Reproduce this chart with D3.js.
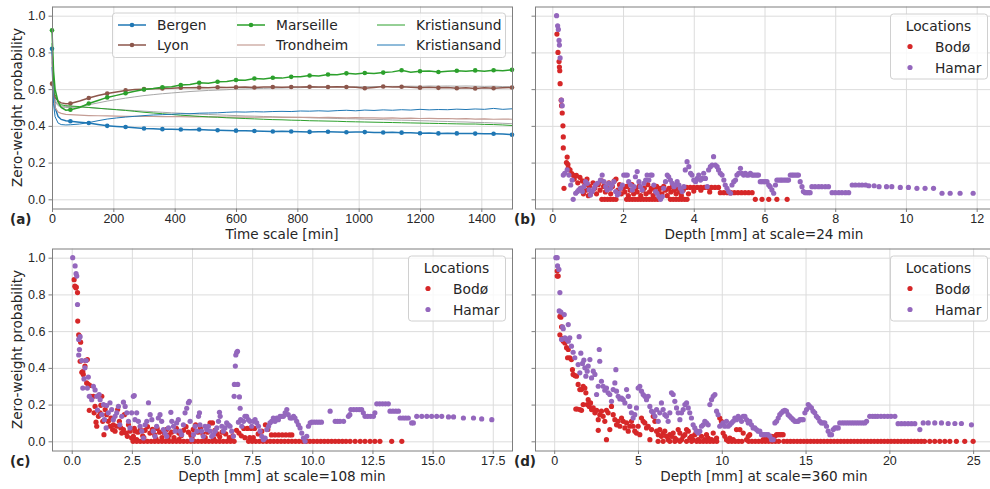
<!DOCTYPE html>
<html lang="en">
<head>
<meta charset="UTF-8">
<title>Zero-weight probability</title>
<script src="https://d3js.org/d3.v7.min.js"></script>
<style>
  body { margin: 0; background: #fff; overflow: hidden; }
  svg { font-family: "DejaVu Sans", sans-serif; display: block; }
  .grid line { stroke: #dcdcdc; }
  .grid path, .axis path { display: none; }
  .axis line { stroke: #808080; }
  .axis text { fill: #262626; font-size: 12.5px; }
  .lbl { fill: #262626; font-size: 13.6px; }
  .tag { fill: #262626; font-size: 13.5px; font-weight: bold; }
  .leg { fill: #262626; font-size: 13.8px; }
</style>
</head>
<body>
<script>
// ---- panel (a): zero-weight probability vs time scale ----
const times = [0, 5, 10, 20, 30, 45, 60, 90, 120, 150, 180, 210, 240, 270, 300, 330, 360, 390, 420, 450,
  480, 510, 540, 570, 600, 630, 660, 690, 720, 750, 780, 810, 840, 870, 900, 930, 960, 990, 1020, 1050,
  1080, 1110, 1140, 1170, 1200, 1230, 1260, 1290, 1320, 1350, 1380, 1410, 1440, 1470, 1500];

const bergen = [0.82, 0.6, 0.5, 0.45, 0.435, 0.428, 0.425, 0.42, 0.416, 0.408, 0.40, 0.397, 0.394, 0.39, 0.386, 0.384, 0.382, 0.381, 0.38, 0.379,
  0.38, 0.378, 0.376, 0.375, 0.374, 0.373, 0.372, 0.371, 0.369, 0.37, 0.369, 0.368, 0.367, 0.368, 0.368, 0.366, 0.365, 0.366, 0.366, 0.364,
  0.364, 0.365, 0.363, 0.362, 0.36, 0.361, 0.359, 0.36, 0.359, 0.358, 0.358, 0.357, 0.357, 0.356, 0.352];
const lyon = [0.63, 0.58, 0.555, 0.535, 0.525, 0.52, 0.522, 0.535, 0.552, 0.565, 0.576, 0.585, 0.593, 0.598, 0.6, 0.602, 0.604, 0.605, 0.608, 0.607,
  0.609, 0.608, 0.61, 0.609, 0.61, 0.611, 0.609, 0.611, 0.612, 0.61, 0.612, 0.611, 0.613, 0.611, 0.612, 0.613, 0.612, 0.61, 0.605, 0.609,
  0.614, 0.612, 0.613, 0.61, 0.608, 0.61, 0.607, 0.609, 0.605, 0.608, 0.604, 0.607, 0.605, 0.607, 0.609];
const marseille = [0.92, 0.7, 0.6, 0.53, 0.5, 0.485, 0.488, 0.5, 0.522, 0.538, 0.555, 0.566, 0.578, 0.588, 0.598, 0.603, 0.61, 0.613, 0.622, 0.625,
  0.635, 0.632, 0.64, 0.641, 0.65, 0.648, 0.658, 0.655, 0.662, 0.66, 0.667, 0.668, 0.674, 0.672, 0.68, 0.678, 0.686, 0.682, 0.688, 0.685,
  0.69, 0.694, 0.703, 0.692, 0.697, 0.699, 0.693, 0.698, 0.7, 0.697, 0.702, 0.698, 0.703, 0.7, 0.705];
const trondheim = [0.78, 0.56, 0.5, 0.475, 0.468, 0.463, 0.461, 0.458, 0.456, 0.455, 0.454, 0.453, 0.452, 0.452, 0.451, 0.451, 0.45, 0.45, 0.45, 0.449,
  0.45, 0.449, 0.449, 0.448, 0.448, 0.448, 0.447, 0.448, 0.447, 0.446, 0.447, 0.446, 0.446, 0.445, 0.446, 0.445, 0.444, 0.445, 0.443, 0.444,
  0.442, 0.443, 0.441, 0.442, 0.44, 0.441, 0.439, 0.44, 0.438, 0.439, 0.437, 0.438, 0.436, 0.437, 0.436];
const kristiansund = [0.85, 0.65, 0.57, 0.53, 0.515, 0.51, 0.508, 0.505, 0.5, 0.496, 0.492, 0.488, 0.484, 0.479, 0.474, 0.47, 0.466, 0.462, 0.458, 0.455,
  0.452, 0.449, 0.447, 0.444, 0.442, 0.44, 0.438, 0.436, 0.434, 0.433, 0.431, 0.43, 0.428, 0.427, 0.426, 0.425, 0.423, 0.422, 0.421, 0.42,
  0.419, 0.418, 0.417, 0.416, 0.415, 0.414, 0.413, 0.412, 0.411, 0.41, 0.41, 0.408, 0.407, 0.405, 0.402];
const kristiansand = [0.72, 0.52, 0.45, 0.415, 0.407, 0.405, 0.406, 0.41, 0.418, 0.428, 0.437, 0.443, 0.448, 0.452, 0.456, 0.459, 0.461, 0.463, 0.466, 0.466,
  0.469, 0.47, 0.471, 0.474, 0.476, 0.475, 0.477, 0.476, 0.478, 0.479, 0.478, 0.481, 0.48, 0.482, 0.48, 0.483, 0.485, 0.482, 0.486, 0.484,
  0.487, 0.485, 0.488, 0.486, 0.49, 0.487, 0.489, 0.488, 0.491, 0.489, 0.492, 0.49, 0.495, 0.49, 0.493];
// two faint unlabeled reference curves
const greyUp = [0.75, 0.57, 0.53, 0.51, 0.503, 0.5, 0.5, 0.505, 0.515, 0.525, 0.535, 0.543, 0.551, 0.558, 0.565, 0.57, 0.575, 0.579, 0.583, 0.587,
  0.59, 0.593, 0.595, 0.597, 0.6, 0.601, 0.603, 0.604, 0.606, 0.606, 0.608, 0.608, 0.61, 0.61, 0.611, 0.612, 0.612, 0.613, 0.613, 0.614,
  0.614, 0.615, 0.615, 0.616, 0.615, 0.617, 0.616, 0.617, 0.616, 0.617, 0.616, 0.615, 0.616, 0.614, 0.613];
const greyDown = [0.8, 0.6, 0.54, 0.515, 0.508, 0.505, 0.504, 0.502, 0.5, 0.496, 0.492, 0.489, 0.486, 0.483, 0.48, 0.477, 0.474, 0.471, 0.469, 0.466,
  0.464, 0.462, 0.46, 0.458, 0.456, 0.454, 0.453, 0.451, 0.45, 0.448, 0.447, 0.446, 0.444, 0.443, 0.442, 0.44, 0.439, 0.438, 0.436, 0.435,
  0.434, 0.432, 0.431, 0.43, 0.428, 0.427, 0.425, 0.424, 0.422, 0.421, 0.419, 0.418, 0.416, 0.414, 0.412];

// ---- panels (b)-(d): depth vs zero-weight probability ----
const bodo24 = [[0.13,0.9],[0.16,0.8],[0.19,0.75],[0.2,0.72],[0.21,0.7],[0.22,0.63],[0.25,0.54],[0.26,0.51],[0.28,0.47],[0.3,0.4],
  [0.31,0.34],[0.31,0.28],[0.42,0.23],[0.4,0.2],[0.44,0.19],[0.45,0.17],[0.5,0.16],[0.33,0.06],[0.55,0.14],[0.6,0.13],[0.62,0.11],
  [0.68,0.13],[0.72,0.09],[0.78,0.12],[0.8,0.06],[0.85,0.1],[0.88,0.03],[0.92,0.08],[0.95,0.05],[0.98,0.11],[1.02,0.02],[1.05,0.07],
  [1.1,0.04],[1.15,0.09],[1.2,0.06],[1.25,0.03],[1.3,0.08],[1.35,0.05],[1.4,0.1],[1.45,0.07],[1.5,0.04],[1.55,0.06],[1.6,0.09],
  [1.65,0.03],[1.7,0.07],[1.75,0.1],[1.8,0.11],[1.85,0.05],[1.9,0.08],[1.95,0.03],[2.0,0.06],[2.05,0.04],[2.1,0.07],[2.15,0.02],
  [2.2,0.05],[2.25,0.08],[2.3,0.03],[2.35,0.06],[2.4,0.04],[2.45,0.07],[2.5,0.02],[2.55,0.05],[2.6,0.06],[2.65,0.03],[2.7,0.08],
  [2.75,0.04],[2.8,0.06],[2.85,0.02],[2.9,0.05],[2.95,0.07],[3.0,0.04],[3.05,0.06],[3.1,0.03],[3.15,0.07],[3.2,0.05],[3.25,0.02],
  [3.3,0.06],[3.35,0.04],[3.4,0.07],[3.45,0.05],[3.5,0.03],[3.55,0.06],[3.6,0.04],[3.65,0.02],[3.7,0.05],[3.85,0.03],[4.0,0.045],
  [4.2,0.05],[4.45,0.04],[3.8,0.065],[3.9,0.065],[4.0,0.065],[4.1,0.065],[4.2,0.065],[4.3,0.065],[4.4,0.065],[4.5,0.065],[4.6,0.065],
  [4.7,0.065],[4.75,0.036],[4.85,0.036],[4.95,0.036],[5.05,0.036],[5.15,0.036],[5.25,0.036],[5.35,0.036],[5.45,0.036],[5.55,0.036],
  [5.65,0.036],[1.4,0],[1.48,0],[1.56,0],[1.64,0],[1.72,0],[1.8,0],[2.1,0],[2.18,0],[2.26,0],[2.34,0],[2.42,0],[2.5,0],[2.58,0],
  [2.66,0],[2.74,0],[2.82,0],[2.9,0],[2.98,0],[3.34,0],[3.42,0],[3.5,0],[3.58,0],[3.66,0],[3.74,0],[3.81,0],[5.74,0],[5.93,0],
  [6.12,0],[6.35,0],[6.64,0]];
const hamar24 = [[0.12,1.0],[0.15,0.945],[0.17,0.925],[0.19,0.865],[0.2,0.84],[0.22,0.77],[0.26,0.54],[0.28,0.51],[0.31,0.132],
  [0.35,0.142],[0.42,0.16],[0.47,0.132],[0.52,0.078],[0.56,0.105],[0.59,0],[0.66,0.033],[0.71,0.042],[0.75,0.051],[0.8,0.06],
  [0.85,0.042],[0.89,0.069],[0.94,0.096],[0.99,0.087],[1.04,0.051],[1.08,0.024],[1.13,0.042],[1.18,0.06],[1.22,0.078],[1.27,0.087],
  [1.36,0.105],[1.41,0.132],[1.46,0.096],[1.51,0.069],[1.55,0.051],[1.6,0.087],[1.65,0.06],[1.69,0.078],[1.74,0.096],[1.79,0.042],
  [1.84,0.024],[1.88,0.033],[1.93,0.06],[1.98,0.078],[2.02,0.132],[2.07,0.132],[2.12,0.132],[2.16,0.096],[2.21,0.078],[2.26,0.051],
  [2.31,0.069],[2.35,0.123],[2.4,0.151],[2.45,0.096],[2.49,0.069],[2.54,0.051],[2.59,0.087],[2.64,0.105],[2.68,0.132],[2.73,0.105],
  [2.78,0.132],[2.82,0.132],[2.87,0.078],[2.92,0.042],[2.96,0.033],[3.01,0.015],[3.06,0],[3.11,0.015],[3.15,0.06],[3.2,0.096],
  [3.25,0.132],[3.29,0.123],[3.34,0.105],[3.39,0.087],[3.44,0.069],[3.48,0.078],[3.53,0.096],[3.58,0.078],[3.62,0.06],[3.67,0.042],
  [3.72,0.069],[3.76,0.16],[3.81,0.205],[3.86,0.178],[3.91,0.142],[3.95,0.132],[4.0,0.105],[4.05,0.096],[4.1,0.114],[4.14,0.132],
  [4.19,0.105],[4.24,0.114],[4.28,0.142],[4.33,0.114],[4.38,0.069],[4.42,0.16],[4.47,0.178],[4.52,0.187],[4.56,0.232],[4.61,0.187],
  [4.66,0.178],[4.7,0.16],[4.75,0.142],[4.8,0.132],[4.85,0.105],[4.89,0.078],[4.94,0.06],[4.99,0.042],[5.04,0.033],[5.08,0.078],
  [5.13,0.096],[5.18,0.105],[5.22,0.132],[5.27,0.142],[5.32,0.169],[5.36,0.142],[5.41,0.132],[5.46,0.142],[5.5,0.132],[5.55,0.132],
  [5.6,0.142],[5.65,0.132],[5.69,0.132],[5.74,0.132],[5.79,0.132],[5.83,0.132],[5.88,0.096],[5.93,0.096],[5.98,0.096],[6.02,0.096],
  [6.07,0.096],[6.12,0.078],[6.16,0.069],[6.21,0.051],[6.26,0.033],[6.31,0.078],[6.35,0.105],[6.4,0.105],[6.45,0.105],[6.49,0.105],
  [6.54,0.105],[6.59,0.105],[6.64,0.105],[6.68,0.105],[6.73,0.132],[6.78,0.132],[6.82,0.132],[6.87,0.132],[6.92,0.132],[6.96,0.132],
  [7.01,0.096],[7.06,0.069],[7.1,0.042],[7.15,0.036],[7.2,0.036],[7.25,0.036],[7.29,0.036],[7.34,0.069],[7.43,0.069],[7.53,0.069],
  [7.62,0.069],[7.72,0.069],[7.81,0.069],[7.91,0.036],[8.0,0.036],[8.1,0.036],[8.19,0.036],[8.29,0.036],[8.38,0.036],[8.48,0.078],
  [8.57,0.078],[8.67,0.078],[8.76,0.078],[8.86,0.078],[8.95,0.074],[9.1,0.074],[9.24,0.069],[9.45,0.069],[9.6,0.069],[9.84,0.065],
  [10.07,0.065],[10.31,0.06],[10.54,0.06],[10.78,0.06],[11.02,0.033],[11.25,0.033],[11.53,0.033],[11.9,0.033]];

const bodo108 = [[0.1,0.88],[0.13,0.845],[0.17,0.836],[0.19,0.84],[0.24,0.81],[0.25,0.655],[0.29,0.58],[0.32,0.573],[0.37,0.54],
  [0.35,0.436],[0.42,0.376],[0.46,0.38],[0.48,0.364],[0.55,0.41],[0.58,0.44],[0.65,0.445],[0.62,0.318],[0.69,0.31],[0.76,0.304],
  [0.79,0.245],[0.73,0.169],[0.9,0.245],[0.93,0.155],[0.97,0.19],[1.01,0.104],[1.04,0.082],[1.11,0.136],[1.18,0.155],[1.21,0.196],
  [1.25,0.245],[1.29,0.109],[1.34,0.036],[1.39,0.173],[1.45,0.145],[1.52,0.109],[1.59,0.082],[1.63,0.127],[1.7,0.064],[1.73,0.09],
  [1.8,0.055],[1.87,0.082],[1.91,0.173],[1.98,0.109],[2.04,0.073],[2.08,0.045],[2.15,0.064],[2.19,0.145],[2.26,0.045],[2.31,0.027],
  [2.36,0.09],[2.42,0.055],[2.49,0.018],[2.56,0.027],[2.63,0.055],[2.7,0.009],[2.6,0.07],[2.75,0.05],[2.85,0.065],[2.95,0.03],
  [3.05,0.06],[3.15,0.08],[3.25,0.045],[3.35,0.065],[3.45,0.035],[3.55,0.07],[3.65,0.05],[3.75,0.02],[3.85,0.045],[3.95,0.065],
  [4.05,0.035],[4.15,0.05],[4.25,0.02],[4.35,0.07],[4.45,0.045],[4.55,0.03],[4.65,0.06],[4.75,0.08],[4.85,0.05],[4.95,0.035],
  [5.05,0.065],[5.15,0.09],[5.25,0.05],[5.35,0.07],[5.45,0.04],[5.55,0.02],[5.65,0.05],[5.75,0.1],[5.85,0.1],[5.95,0.06],[6.05,0.04],
  [6.15,0.025],[6.25,0.05],[6.4,0.04],[6.55,0.02],[6.7,0.03],[6.85,0.06],[6.95,0.045],[7.05,0.03],[7.15,0.07],[7.3,0.07],[7.45,0.07],
  [7.6,0.07],[7.75,0.04],[7.9,0.055],[8.05,0.09],[8.15,0.065],[8.3,0.035],[8.45,0.035],[8.6,0.035],[8.75,0.035],[8.9,0.035],
  [9.05,0.035],[9.15,0.035],[2.55,0.02],[3.0,0.02],[3.5,0.015],[4.0,0.015],[4.45,0.01],[5.0,0.02],[5.9,0.015],[6.6,0.015],[7.2,0.02],
  [7.4,0.02],[7.55,0.02]];
const bodo108Zero = [2.55, 2.7, 2.85, 3.0, 3.15, 3.3, 3.45, 3.6, 3.75, 3.9, 4.05, 4.2, 4.35, 4.5, 4.65, 4.8, 4.95, 5.1, 5.25, 5.4,
  5.55, 5.7, 5.85, 6.0, 6.15, 6.3, 6.45, 6.6, 6.75, 7.35, 7.5, 7.65, 7.8, 7.95, 8.1, 8.25, 8.4, 8.55, 8.7, 8.85, 9.0, 9.15, 9.3,
  9.45, 9.6, 9.75, 9.9, 10.05, 10.2, 10.35, 10.5, 10.65, 10.8, 10.95, 11.1, 11.25, 11.4, 11.57, 11.78, 11.99, 12.19, 12.4, 12.6,
  12.81, 13.3, 13.72];
const hamar108 = [[0.04,1.0],[0.14,0.955],[0.18,0.913],[0.21,0.9],[0.24,0.745],[0.29,0.555],[0.35,0.57],[0.32,0.5],[0.29,0.47],
  [0.42,0.44],[0.46,0.29],[0.51,0.34],[0.55,0.4],[0.6,0.44],[0.65,0.29],[0.69,0.35],[0.73,0.245],[0.83,0.227],[0.9,0.3],[0.97,0.28],
  [1.04,0.245],[1.07,0.17],[1.14,0.255],[1.18,0.227],[1.25,0.145],[1.32,0.2],[1.36,0.118],[1.43,0.073],[1.45,0.195],[1.52,0.155],
  [1.59,0.21],[1.66,0.173],[1.73,0.118],[1.8,0.136],[1.87,0.155],[1.94,0.19],[2.0,0.09],[2.08,0.136],[2.15,0.213],[2.22,0.19],
  [2.29,0.155],[2.36,0.109],[2.42,0.073],[2.49,0.155],[2.56,0.245],[2.6,0.249],[2.63,0.118],[2.7,0.155],[2.77,0.109],[2.84,0.082],
  [2.91,0.055],[2.98,0.018],[3.05,0.09],[3.12,0.109],[3.19,0.21],[3.26,0.145],[3.33,0.118],[3.39,0.055],[3.46,0.027],[3.53,0.082],
  [3.6,0.127],[3.67,0.145],[3.74,0.109],[3.81,0.064],[3.88,0.045],[3.95,0.027],[4.02,0.073],[4.12,0.158],[4.16,0.109],[4.23,0.082],
  [4.3,0.055],[4.36,0.1],[4.43,0.118],[4.5,0.055],[4.57,0.036],[4.64,0.09],[4.71,0.155],[4.78,0.18],[4.85,0.21],[4.89,0.218],
  [4.92,0.109],[4.99,0.009],[5.06,0.036],[5.13,0.082],[5.2,0.055],[5.27,0.136],[5.31,0.155],[5.33,0.09],[5.4,0.055],[5.47,0.027],
  [5.54,0.082],[5.61,0.064],[5.68,0.082],[5.75,0.055],[5.82,0.027],[5.89,0.036],[5.96,0.055],[6.03,0.073],[6.1,0.109],[6.14,0.158],
  [6.17,0.136],[6.24,0.082],[6.3,0.055],[6.37,0.073],[6.44,0.1],[6.51,0.09],[6.58,0.082],[6.65,0.055],[6.72,0.027],[6.75,0.245],
  [6.76,0.31],[6.8,0.41],[6.82,0.47],[6.86,0.485],[6.89,0.49],[6.9,0.31],[6.97,0.242],[7.0,0.18],[6.93,0.104],[7.02,0.118],[7.07,0.082],
  [7.14,0.109],[7.2,0.136],[7.27,0.136],[7.34,0.118],[7.41,0.109],[7.48,0.082],[7.55,0.109],[7.62,0.118],[7.69,0.1],[7.76,0.082],
  [7.83,0.055],[7.9,0.027],[7.97,0.009],[8.04,0.018],[8.11,0.064],[8.18,0.082],[8.24,0.1],[8.31,0.109],[8.38,0.127],[8.45,0.109],
  [8.52,0.127],[8.59,0.118],[8.66,0.136],[8.73,0.136],[8.8,0.136],[8.87,0.155],[8.94,0.173],[9.0,0.145],[9.08,0.127],[9.15,0.127],
  [9.22,0.136],[9.28,0.127],[9.35,0.109],[9.42,0.09],[9.49,0.073],[9.56,0.045],[9.63,0.018],[9.7,0],[9.77,0.027],[9.84,0.082],
  [9.91,0.1],[9.98,0.104],[10.08,0.104],[10.18,0.104],[10.28,0.104],[10.38,0.104],[10.74,0.164],[10.95,0.109],[11.05,0.109],
  [11.15,0.109],[11.3,0.109],[11.5,0.136],[11.56,0.145],[11.6,0.173],[11.72,0.173],[11.84,0.173],[11.95,0.173],[12.05,0.173],
  [12.12,0.155],[12.19,0.136],[12.3,0.136],[12.42,0.136],[12.54,0.136],[12.6,0.155],[12.68,0.204],[12.8,0.204],[12.92,0.204],
  [13.04,0.204],[13.16,0.204],[13.23,0.164],[13.35,0.164],[13.47,0.164],[13.58,0.164],[13.65,0.127],[13.77,0.127],[13.88,0.127],
  [13.99,0.127],[14.13,0.1],[14.2,0.1],[14.34,0.136],[14.55,0.136],[14.76,0.136],[14.96,0.136],[15.17,0.136],[15.38,0.136],
  [15.66,0.133],[15.87,0.133],[16.28,0.127],[16.7,0.127],[17.04,0.122],[17.46,0.118]];

const bodo360 = [[0.18,0.927],[0.24,0.9],[0.18,0.9],[0.34,0.68],[0.4,0.676],[0.44,0.624],[0.34,0.58],[0.5,0.56],[0.54,0.545],
  [0.64,0.536],[0.74,0.51],[0.84,0.5],[0.8,0.455],[0.93,0.455],[1.03,0.445],[1.09,0.39],[1.13,0.364],[1.23,0.358],[1.33,0.355],
  [1.43,0.31],[1.29,0.176],[1.37,0.176],[1.53,0.173],[1.63,0.169],[1.53,0.282],[1.63,0.282],[1.73,0.3],[1.83,0.29],[1.89,0.264],
  [1.73,0.2],[1.97,0.2],[2.03,0.227],[2.09,0.19],[2.17,0.209],[2.23,0.173],[2.33,0.182],[2.43,0.155],[2.53,0.169],[2.63,0.118],
  [2.63,0.06],[2.72,0.145],[2.82,0.164],[2.92,0.136],[3.02,0.109],[3.12,0.009],[3.12,0.169],[3.22,0.155],[3.32,0.064],[3.42,0.19],
  [3.52,0.145],[3.62,0.118],[3.72,0.09],[3.82,0.109],[3.92,0.082],[4.02,0.127],[4.12,0.109],[4.22,0.073],[4.32,0.1],[4.42,0.055],
  [4.51,0.082],[4.61,0.109],[4.71,0.082],[4.81,0.055],[4.91,0.045],[5.01,0.082],[5.11,0.036],[5.21,0.127],[5.31,0.109],[5.41,0.1],
  [5.51,0.073],[5.61,0.082],[5.71,0.009],[5.81,0.064],[5.91,0.136],[6.01,0.109],[6.11,0.055],[6.21,0.036],[6.3,0.064],[6.4,0.027],
  [6.5,0.045],[6.6,0.055],[6.7,0.027],[6.8,0.009],[6.9,0.036],[7.0,0.027],[7.1,0.045],[7.2,0.018],[7.3,0.009],[7.4,0.064],[7.5,0.045],
  [7.6,0.009],[7.7,0.027],[7.8,0.036],[7.9,0.064],[8.0,0.055],[8.09,0.018],[8.19,0.027],[8.29,0.009],[8.39,0.036],[8.49,0.055],
  [8.59,0.009],[8.79,0.027],[8.99,0.009],[9.09,0.036],[9.19,0.018],[9.39,0.009],[9.49,0.045],[9.69,0.018],[9.88,0.127],[9.98,0.109],
  [10.08,0.045],[10.18,0.027],[10.28,0.009],[10.48,0.018],[10.68,0.009],[10.88,0.064],[11.08,0.064],[11.28,0.045],[11.48,0.009],
  [11.58,0.027],[11.67,0.036],[12.47,0.009],[12.67,0.018],[12.77,0.027],[12.97,0.027],[13.17,0.027],[13.27,0.036],[13.37,0.036],
  [13.46,0.036],[13.56,0.036],[13.66,0.036]];
const bodo360Zero = [6.2, 6.5, 6.9, 7.2, 7.5, 7.9, 8.2, 8.5, 8.7, 8.9, 9.1, 9.3, 9.5, 9.7, 10.4, 10.6, 10.8, 11.0, 11.2, 11.6,
  11.8, 12.0, 12.2, 12.4, 12.6, 12.8, 13.0, 13.2, 13.4, 13.7, 13.9, 14.1, 14.3, 14.5, 14.7, 14.9, 15.1, 15.3, 15.5, 15.7, 15.9,
  16.1, 16.3, 16.5, 16.7, 16.9, 17.1, 17.3, 17.5, 17.7, 17.9, 18.1, 18.3, 18.5, 18.7, 18.9, 19.1, 19.3, 19.5, 19.7, 19.9, 20.1,
  20.3, 20.5, 20.7, 20.9, 21.1, 21.3, 21.5, 21.7, 21.9, 22.1, 22.41, 22.71, 23.01, 23.31, 23.61, 24.0, 24.5, 25.0];
const hamar360 = [[0.1,1.0],[0.18,1.0],[0.2,0.955],[0.28,0.936],[0.34,0.81],[0.3,0.71],[0.4,0.704],[0.5,0.624],[0.54,0.613],
  [0.6,0.69],[0.44,0.555],[0.64,0.564],[0.74,0.555],[0.84,0.636],[0.84,0.545],[0.93,0.564],[1.03,0.518],[1.13,0.485],[1.23,0.455],
  [1.43,0.418],[1.49,0.57],[1.53,0.373],[1.59,0.48],[1.69,0.424],[1.77,0.442],[1.83,0.4],[1.89,0.355],[1.97,0.382],[2.03,0.41],
  [2.13,0.445],[2.23,0.345],[2.33,0.382],[2.43,0.364],[2.53,0.255],[2.63,0.3],[2.69,0.5],[2.72,0.436],[2.82,0.327],[2.92,0.3],
  [3.02,0.278],[3.12,0.29],[3.22,0.264],[3.32,0.255],[3.42,0.218],[3.52,0.282],[3.62,0.318],[3.68,0.39],[3.72,0.273],[3.82,0.245],
  [3.92,0.231],[4.02,0.236],[4.12,0.227],[4.22,0.209],[4.32,0.282],[4.42,0.245],[4.51,0.19],[4.61,0.155],[4.71,0.127],[4.81,0.145],
  [4.91,0.182],[5.01,0.29],[5.11,0.3],[5.21,0.273],[5.31,0.255],[5.41,0.245],[5.51,0.227],[5.61,0.245],[5.71,0.19],[5.81,0.164],
  [5.91,0.155],[6.01,0.136],[6.11,0.173],[6.21,0.109],[6.3,0.155],[6.4,0.209],[6.5,0.173],[6.6,0.145],[6.7,0.136],[6.8,0.109],
  [6.9,0.155],[7.0,0.264],[7.1,0.255],[7.2,0.218],[7.3,0.182],[7.4,0.155],[7.5,0.118],[7.6,0.155],[7.7,0.173],[7.8,0.2],[7.9,0.209],
  [8.0,0.182],[8.09,0.155],[8.19,0.127],[8.29,0.09],[8.39,0.073],[8.49,0.055],[8.59,0.045],[8.69,0.055],[8.79,0.082],[8.89,0.09],
  [8.99,0.109],[9.09,0.1],[9.19,0.09],[9.29,0.2],[9.39,0.227],[9.49,0.245],[9.59,0.255],[9.69,0.164],[9.78,0.145],[9.88,0.082],
  [9.98,0.09],[10.08,0.1],[10.18,0.082],[10.28,0.109],[10.38,0.082],[10.48,0.09],[10.58,0.1],[10.68,0.109],[10.78,0.127],[10.88,0.118],
  [10.98,0.136],[11.08,0.127],[11.18,0.109],[11.28,0.136],[11.38,0.136],[11.48,0.118],[11.58,0.1],[11.67,0.109],[11.77,0.09],
  [11.87,0.073],[11.97,0.073],[12.07,0.064],[12.17,0.055],[12.27,0.055],[12.37,0.036],[12.47,0.036],[12.57,0.036],[12.67,0.036],
  [12.77,0.036],[12.87,0.027],[12.97,0.009],[13.07,0.009],[13.17,0.1],[13.27,0.109],[13.37,0.127],[13.46,0.145],[13.56,0.155],
  [13.66,0.164],[13.76,0.169],[13.86,0.164],[13.96,0.145],[14.06,0.136],[14.16,0.127],[14.26,0.118],[14.36,0.109],[14.46,0.109],
  [14.56,0.109],[14.66,0.118],[14.76,0.118],[14.86,0.118],[14.96,0.155],[15.06,0.173],[15.16,0.2],[15.25,0.19],[15.35,0.182],
  [15.45,0.164],[15.55,0.155],[15.65,0.136],[15.75,0.127],[15.85,0.109],[15.95,0.1],[16.05,0.1],[16.15,0.1],[16.25,0.082],
  [16.35,0.055],[16.45,0.036],[16.55,0.036],[16.65,0.064],[16.75,0.073],[16.85,0.073],[16.95,0.073],[17.04,0.1],[17.2,0.1],
  [17.35,0.1],[17.5,0.1],[17.65,0.1],[17.8,0.1],[17.95,0.1],[18.1,0.1],[18.25,0.1],[18.4,0.1],[18.54,0.1],[18.64,0.109],[18.83,0.136],
  [19.0,0.136],[19.15,0.136],[19.3,0.136],[19.5,0.136],[19.7,0.136],[19.9,0.136],[20.1,0.136],[20.33,0.136],[20.52,0.096],
  [20.72,0.096],[20.92,0.096],[21.12,0.096],[21.32,0.096],[21.52,0.096],[21.82,0.064],[22.02,0.1],[22.32,0.1],[22.71,0.1],
  [23.11,0.1],[23.51,0.097],[23.91,0.097],[24.3,0.097],[24.9,0.09]];

const yTicks = [0, 0.2, 0.4, 0.6, 0.8, 1.0];
const timeTicks = [0, 200, 400, 600, 800, 1000, 1200, 1400];
const depthTicks24 = [0, 2, 4, 6, 8, 10, 12];
const depthTicks108 = [0, 2.5, 5, 7.5, 10, 12.5, 15, 17.5];
const depthTicks360 = [0, 5, 10, 15, 20, 25];

const C = { blue: "#1f77b4", brown: "#8c564b", green: "#2ca02c", rose: "#c49c94", grey: "#a8a8a8",
  red: "#d62728", purple: "#9467bd" };

const svg = d3.select("body").append("svg").attr("width", 990).attr("height", 489);

function panel(p) {
  const g = svg.append("g");
  const x = d3.scaleLinear().domain(p.xDomain).range([p.left, p.right]);
  const y = d3.scaleLinear().domain([-0.05, 1.05]).range([p.bottom, p.top]);
  const w = p.right - p.left, h = p.bottom - p.top;

  g.append("g").attr("class", "grid").attr("transform", `translate(0,${p.bottom})`)
    .call(d3.axisBottom(x).tickValues(p.xTicks).tickSize(-h).tickFormat(""));
  g.append("g").attr("class", "grid").attr("transform", `translate(${p.left},0)`)
    .call(d3.axisLeft(y).tickValues(yTicks).tickSize(-w).tickFormat(""));

  g.append("g").attr("class", "axis").attr("transform", `translate(0,${p.bottom})`)
    .call(d3.axisBottom(x).tickValues(p.xTicks).tickSize(3.5).tickPadding(2).tickFormat(p.fmt));
  g.append("g").attr("class", "axis").attr("transform", `translate(${p.left},0)`)
    .call(d3.axisLeft(y).tickValues(yTicks).tickSize(3.5).tickPadding(3)
      .tickFormat(p.yLabels ? d3.format(".1f") : ""));

  g.append("text").attr("class", "lbl").attr("text-anchor", "middle")
    .attr("x", p.labelX || (p.left + p.right) / 2).attr("y", p.bottom + 30).text(p.xLabel);
  if (p.yLabels) {
    g.append("text").attr("class", "lbl").attr("text-anchor", "middle")
      .attr("transform", `translate(22,${(p.top + p.bottom) / 2}) rotate(-90)`)
      .text("Zero-weight probability");
  }
  g.append("text").attr("class", "tag").attr("x", p.tagX).attr("y", p.bottom + 15).text(p.tag);

  const plot = g.append("g");
  g.append("rect").attr("x", p.left + 0.5).attr("y", p.top + 0.5)
    .attr("width", w).attr("height", h).attr("fill", "none").attr("stroke", "#7f7f7f");
  return { g, plot, x, y, p };
}

// (a)
const A = panel({ left: 52, right: 512, top: 6.5, bottom: 208.5, xDomain: [0, 1500], xTicks: timeTicks,
  fmt: d3.format("d"), xLabel: "Time scale [min]", tag: "(a)", tagX: 10, yLabels: true });
const series = [
  { name: null, vals: greyUp, color: C.grey, width: 1, marks: false },
  { name: null, vals: greyDown, color: C.grey, width: 1, marks: false },
  { name: "Bergen", vals: bergen, color: C.blue, width: 1.5, marks: true },
  { name: "Lyon", vals: lyon, color: C.brown, width: 1.5, marks: true },
  { name: "Marseille", vals: marseille, color: C.green, width: 1.5, marks: true },
  { name: "Trondheim", vals: trondheim, color: C.rose, width: 1.2, marks: false },
  { name: "Kristiansund", vals: kristiansund, color: C.green, width: 1, marks: false },
  { name: "Kristiansand", vals: kristiansand, color: C.blue, width: 1, marks: false }
];
const line = d3.line().x(d => A.x(d[0])).y(d => A.y(d[1]));
series.forEach(s => {
  const pts = times.map((t, i) => [t, s.vals[i]]);
  A.plot.append("path").attr("d", line(pts)).attr("fill", "none")
    .attr("stroke", s.color).attr("stroke-width", s.width);
  if (s.marks) {
    A.plot.selectAll(null).data(pts.filter(d => d[0] % 60 === 0)).enter().append("circle")
      .attr("cx", d => A.x(d[0])).attr("cy", d => A.y(d[1])).attr("r", 2.3).attr("fill", s.color);
  }
});
// legend (a)
const legA = A.g.append("g");
legA.append("rect").attr("x", 112.5).attr("y", 13).attr("width", 393).attr("height", 44.5).attr("rx", 3)
  .attr("fill", "#fff").attr("fill-opacity", 0.8).attr("stroke", "#d0d0d0");
const legCols = [118, 237, 377], legRows = [25, 45];
series.filter(s => s.name).forEach((s, i) => {
  const cx = legCols[Math.floor(i / 2)], cy = legRows[i % 2];
  legA.append("line").attr("x1", cx).attr("x2", cx + 28).attr("y1", cy).attr("y2", cy)
    .attr("stroke", s.color).attr("stroke-width", s.width);
  if (s.marks) legA.append("circle").attr("cx", cx + 14).attr("cy", cy).attr("r", 2.3).attr("fill", s.color);
  legA.append("text").attr("class", "leg").attr("x", cx + 39).attr("y", cy + 5).text(s.name);
});

// scatter panels (right column runs past the picture edge, as in the cropped original)
function scatterPanel(cfg, bodo, bodoZero, hamar) {
  const P = panel(cfg);
  const pts = bodo.map(d => ({ x: d[0], y: d[1], c: C.red }))
    .concat(bodoZero.map(v => ({ x: v, y: 0, c: C.red })))
    .concat(hamar.map(d => ({ x: d[0], y: d[1], c: C.purple })));
  P.plot.selectAll("circle").data(pts).enter().append("circle")
    .attr("cx", d => P.x(d.x)).attr("cy", d => P.y(d.y)).attr("r", 2.6).attr("fill", d => d.c);
  const lw = 97, lh = 65, lx = cfg.right - 7 - lw, ly = cfg.top + 7;
  const leg = P.g.append("g");
  leg.append("rect").attr("x", lx + 0.5).attr("y", ly + 0.5).attr("width", lw).attr("height", lh).attr("rx", 3)
    .attr("fill", "#fff").attr("fill-opacity", 0.8).attr("stroke", "#d0d0d0");
  leg.append("text").attr("class", "leg").attr("text-anchor", "middle")
    .attr("x", lx + lw / 2).attr("y", ly + 17).text("Locations");
  [["Bodø", C.red], ["Hamar", C.purple]].forEach((e, i) => {
    const yy = ly + 33 + i * 21;
    leg.append("circle").attr("cx", lx + 20).attr("cy", yy).attr("r", 2.6).attr("fill", e[1]);
    leg.append("text").attr("class", "leg").attr("x", lx + 45).attr("y", yy + 5).text(e[0]);
  });
}

scatterPanel({ left: 535, right: 994, top: 6.5, bottom: 208.5, xDomain: [-0.49, 12.49], xTicks: depthTicks24,
  fmt: d3.format("d"), xLabel: "Depth [mm] at scale=24 min", labelX: 764, tag: "(b)", tagX: 514, yLabels: false },
  bodo24, [], hamar24);
scatterPanel({ left: 52, right: 512, top: 248.5, bottom: 450.5, xDomain: [-0.82, 18.3], xTicks: depthTicks108,
  fmt: d3.format(".1f"), xLabel: "Depth [mm] at scale=108 min", tag: "(c)", tagX: 10, yLabels: true },
  bodo108, bodo108Zero, hamar108);
scatterPanel({ left: 535, right: 994, top: 248.5, bottom: 450.5, xDomain: [-1.145, 26.245], xTicks: depthTicks360,
  fmt: d3.format("d"), xLabel: "Depth [mm] at scale=360 min", labelX: 764, tag: "(d)", tagX: 514, yLabels: false },
  bodo360, bodo360Zero, hamar360);
</script>
</body>
</html>
